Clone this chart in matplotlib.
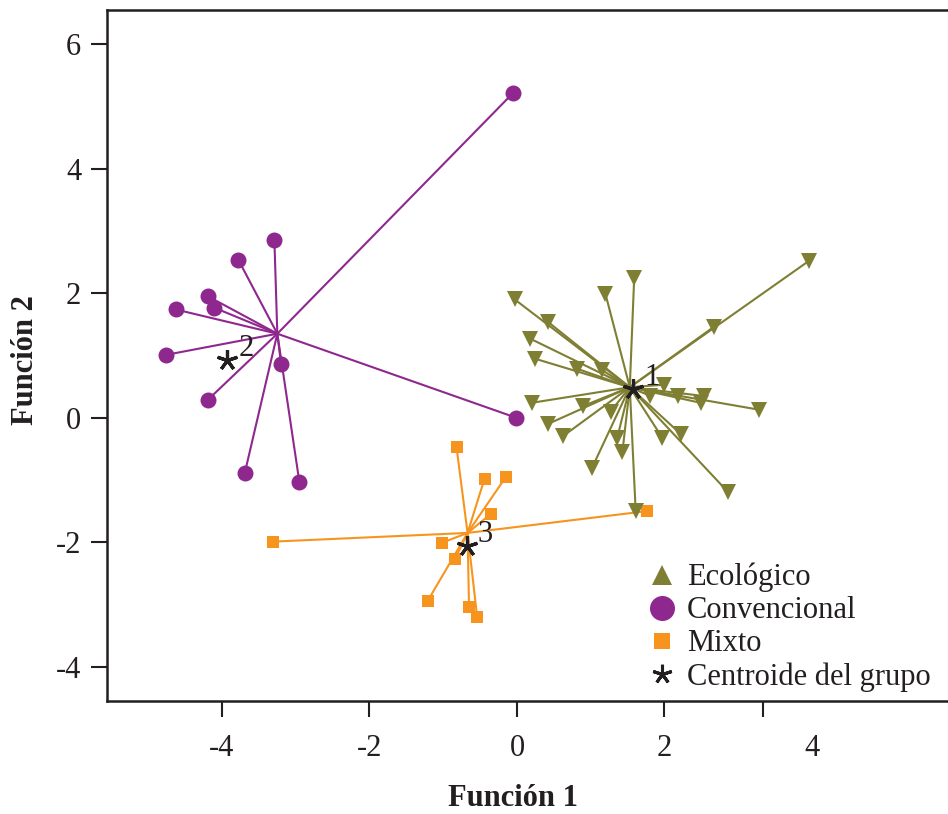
import matplotlib
matplotlib.use('Agg')
import matplotlib.pyplot as plt
from matplotlib.lines import Line2D

plt.rcParams['font.family'] = ['Liberation Serif', 'DejaVu Serif']

# ---------------- data ----------------
eco_x = [3.96, 1.59, 1.20, -0.03, 0.42, 2.67, 0.18, 0.24, 0.81, 1.16, 1.99, 1.81, 2.18, 2.53,
         2.49, 3.28, 0.20, 0.90, 1.27, 0.42, 0.63, 1.36, 1.43, 1.97, 2.22, 1.02, 2.86, 1.61]
eco_y = [2.52, 2.25, 1.99, 1.90, 1.54, 1.46, 1.27, 0.95, 0.79, 0.76, 0.53, 0.35, 0.35, 0.35,
         0.24, 0.13, 0.24, 0.19, 0.10, -0.10, -0.29, -0.32, -0.55, -0.32, -0.26, -0.80, -1.19, -1.50]

conv_x = [-0.05, -3.29, -3.78, -4.19, -4.11, -4.63, -4.76, -3.20, -4.19, -3.69, -2.95, -0.01]
conv_y = [5.22, 2.86, 2.54, 1.95, 1.77, 1.74, 1.01, 0.87, 0.29, -0.88, -1.04, 0.00]

mixto_x = [-0.82, -0.44, -0.15, -0.35, -3.31, -1.02, -0.84, -1.21, -0.65, -0.54, 1.76]
mixto_y = [-0.47, -0.98, -0.95, -1.54, -1.99, -2.01, -2.27, -2.94, -3.04, -3.20, -1.50]

# point where each group's rays meet
hub_x = [1.53, -3.25, -0.67]
hub_y = [0.49, 1.35, -1.85]

# group centroids (star markers) and their labels
centroid_x = [1.58, -3.93, -0.68]
centroid_y = [0.46, 0.92, -2.06]
centroid_labels = ['1', '2', '3']

group_names = ['Ecológico', 'Convencional', 'Mixto']
centroid_name = 'Centroide del grupo'

ytick_values = [-4, -2, 0, 2, 4, 6]
xtick_marks = [-4, -2, 0, 2, 3.33]
xtick_mark_labels = ['-4', '-2', '0', '2', '']
xtick_extra = [4]
xtick_extra_labels = ['4']

# ---------------- style ----------------
GREEN = '#7f7f33'
PURPLE = '#8e288e'
ORANGE = '#f7941e'
DARK = '#231f20'
FS = 22

W, H = 948, 814
fig = plt.figure(figsize=(W / 100, H / 100), dpi=100)
ax = fig.add_axes([107 / W, 1 - 701 / H, (952 - 107) / W, (701 - 10) / H])

groups = [
    (mixto_x, mixto_y, hub_x[2], hub_y[2], ORANGE, 's', 8.7),
    (conv_x, conv_y, hub_x[1], hub_y[1], PURPLE, 'o', 11.5),
    (eco_x, eco_y, hub_x[0], hub_y[0], GREEN, 'v', 11.5),
]
for z, (xs, ys, hx, hy, col, mk, ms) in enumerate(groups):
    for x, y in zip(xs, ys):
        ax.plot([hx, x], [hy, y], color=col, lw=1.5, zorder=2 + z * 0.1,
                solid_capstyle='butt')
    ax.plot(xs, ys, ls='none', marker=mk, ms=ms, color=col, mec=col, mew=0,
            zorder=3 + z * 0.1)

ax.plot(centroid_x, centroid_y, ls='none', marker=(5, 2, 0), ms=15, mew=2.3,
        color=DARK, zorder=6)
for cx, cy, lab in zip(centroid_x, centroid_y, centroid_labels):
    ax.annotate(lab, (cx, cy), xytext=(13.5, 8.5), textcoords='offset points',
                ha='center', va='center', fontsize=FS, color=DARK, zorder=7)

ax.set_xlim(-5.56, 5.90)
ax.set_ylim(-4.55, 6.55)

for s in ['left', 'top', 'bottom']:
    ax.spines[s].set_linewidth(1.8)
    ax.spines[s].set_color(DARK)
ax.spines['right'].set_visible(False)

ax.set_yticks(ytick_values, [str(v) for v in ytick_values])
ax.set_xticks(xtick_marks, xtick_mark_labels)
ax.set_xticks(xtick_extra, xtick_extra_labels, minor=True)
ax.tick_params(axis='y', which='major', direction='out', length=11.5, width=1.5,
               pad=7, labelsize=FS, colors=DARK)
ax.tick_params(axis='x', which='major', direction='out', length=11.5, width=1.5,
               pad=12, labelsize=FS, colors=DARK)
ax.tick_params(axis='x', which='minor', length=0, pad=23.5, labelsize=FS,
               colors=DARK)
ax.tick_params(axis='y', which='minor', left=False)

ax.set_xlabel('Función 1', fontsize=FS, fontweight='bold', color=DARK, va='center')
ax.xaxis.set_label_coords((511 - 107) / 841, (701 - 798) / 691)
ax.set_ylabel('Función 2', fontsize=FS, fontweight='bold', color=DARK, va='center')
ax.yaxis.set_label_coords((26 - 107) / 841, (701 - 360) / 691)

handles = [
    Line2D([], [], ls='none', marker='^', ms=14, color=GREEN, mew=0),
    Line2D([], [], ls='none', marker='o', ms=18, color=PURPLE, mew=0),
    Line2D([], [], ls='none', marker='s', ms=12, color=ORANGE, mew=0),
    Line2D([], [], ls='none', marker=(5, 2, 0), ms=14, mew=2.2, color=DARK),
]
leg = ax.legend(handles, group_names + [centroid_name], loc='upper left',
                bbox_to_anchor=(647 / W, 1 - 563 / H), bbox_transform=fig.transFigure,
                frameon=False, fontsize=FS, handlelength=1.0, handletextpad=0.3,
                labelspacing=0.13, borderpad=0, borderaxespad=0)
for t in leg.get_texts():
    t.set_color(DARK)

fig.savefig('out.png', dpi=100)
